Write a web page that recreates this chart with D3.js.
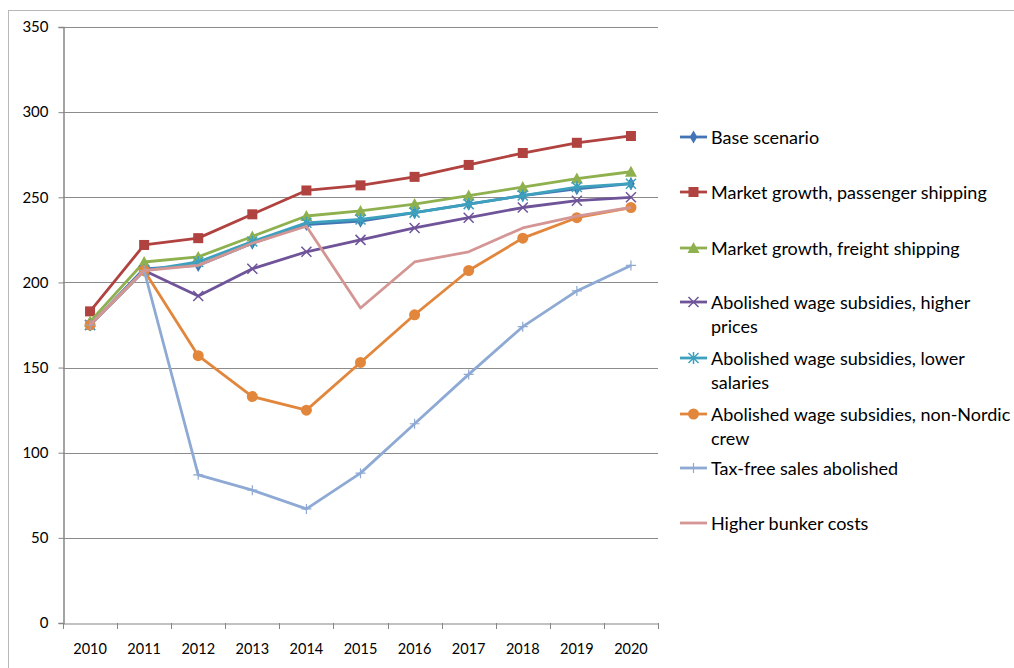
<!DOCTYPE html>
<html><head><meta charset="utf-8">
<script src="https://cdn.jsdelivr.net/npm/d3@7"></script>
<style>body{margin:0;background:#fff;}svg{display:block;font-family:Lato,"Open Sans",sans-serif;}</style>
</head><body><svg id="c" width="1014" height="668"></svg>
<script>
const years = ["2010","2011","2012","2013","2014","2015","2016","2017","2018","2019","2020"];
const yTicks = [0,50,100,150,200,250,300,350];
const baseScenario   = [175,208,210,223,234,236,241,246,251,255,258];
const passengerGrowth= [183,222,226,240,254,257,262,269,276,282,286];
const freightGrowth  = [177,212,215,227,239,242,246,251,256,261,265];
const higherPrices   = [175,207,192,208,218,225,232,238,244,248,250];
const lowerSalaries  = [175,207,212,224,235,237,241,246,251,256,258];
const nonNordicCrew  = [175,207,157,133,125,153,181,207,226,238,244];
const taxFree        = [175,207,87,78,67,88,117,146,174,195,210];
const bunkerCosts    = [175,207,210,223,233,185,212,218,232,239,244];

const series = [
  {name:["Base scenario"], values:baseScenario, color:"#4375b5", marker:"diamond"},
  {name:["Market growth, passenger shipping"], values:passengerGrowth, color:"#b0423f", marker:"square"},
  {name:["Market growth, freight shipping"], values:freightGrowth, color:"#8fb04e", marker:"triangle"},
  {name:["Abolished wage subsidies, higher","prices"], values:higherPrices, color:"#6f5499", marker:"x"},
  {name:["Abolished wage subsidies, lower","salaries"], values:lowerSalaries, color:"#3da1bd", marker:"star"},
  {name:["Abolished wage subsidies, non-Nordic","crew"], values:nonNordicCrew, color:"#e2863c", marker:"circle"},
  {name:["Tax-free sales abolished"], values:taxFree, color:"#8eaad4", marker:"plus"},
  {name:["Higher bunker costs"], values:bunkerCosts, color:"#d49694", marker:"none"}
];
const legendY = [137,192,248,302,358,414,468,523];

const svg = d3.select("#c");
svg.append("rect").attr("x",8.5).attr("y",10.5).attr("width",1014).attr("height",668).attr("fill","none").attr("stroke","#b8b8b8");

const x = d3.scaleBand().domain(years).range([63,658]);
const y = d3.scaleLinear().domain([0,350]).range([623,27]);

// gridlines
svg.append("g").selectAll("line").data(yTicks.filter(d=>d>0)).join("line")
  .attr("x1",63).attr("x2",658).attr("y1",d=>Math.round(y(d))+0.5).attr("y2",d=>Math.round(y(d))+0.5)
  .attr("stroke","#8c8c8c").attr("stroke-width",1);

// y axis
const ya = svg.append("g").attr("transform","translate(63.5,0)")
  .call(d3.axisLeft(y).tickValues(yTicks).tickSize(5).tickPadding(10).tickFormat(d3.format("d")));
ya.select(".domain").attr("stroke","#868686").attr("stroke-width",1.5);
ya.selectAll(".tick line").attr("stroke","#868686");
ya.selectAll(".tick text").attr("font-size",15).attr("fill","#000").attr("font-family","Lato, sans-serif");

// x axis
const xa = svg.append("g").attr("transform","translate(0,623.5)").call(d3.axisBottom(x).tickSize(0).tickPadding(20));
xa.select(".domain").attr("stroke","#868686").attr("stroke-width",1.2);
xa.selectAll(".tick text").attr("font-size",14.5).attr("fill","#000").attr("font-family","Lato, sans-serif");
svg.append("g").selectAll("line").data(years.concat(["end"])).join("line")
  .attr("x1",(d,i)=>Math.round(63+i*x.bandwidth())+0.5).attr("x2",(d,i)=>Math.round(63+i*x.bandwidth())+0.5)
  .attr("y1",623).attr("y2",629).attr("stroke","#868686");

function drawMarker(g, type, color, cx, cy){
  if(type==="diamond") g.append("path").attr("d",d3.symbol(d3.symbolDiamond,50)()).attr("transform",`translate(${cx},${cy})`).attr("fill",color);
  else if(type==="square") g.append("rect").attr("x",cx-5).attr("y",cy-5).attr("width",10).attr("height",10).attr("fill",color);
  else if(type==="triangle") g.append("path").attr("d",`M${cx},${cy-6}L${cx+6},${cy+5}L${cx-6},${cy+5}Z`).attr("fill",color);
  else if(type==="circle") g.append("circle").attr("cx",cx).attr("cy",cy).attr("r",5.5).attr("fill",color);
  else if(type==="x") g.append("path").attr("d",`M${cx-5},${cy-5}L${cx+5},${cy+5}M${cx-5},${cy+5}L${cx+5},${cy-5}`).attr("stroke",color).attr("stroke-width",1.5);
  else if(type==="star") g.append("path").attr("d",`M${cx-5},${cy-5}L${cx+5},${cy+5}M${cx-5},${cy+5}L${cx+5},${cy-5}M${cx},${cy-6}L${cx},${cy+6}`).attr("stroke",color).attr("stroke-width",1.5);
  else if(type==="plus") g.append("path").attr("d",`M${cx-5},${cy}L${cx+5},${cy}M${cx},${cy-5}L${cx},${cy+5}`).attr("stroke",color).attr("stroke-width",1.2);
}

const line = d3.line().x((d,i)=>x(years[i])+x.bandwidth()/2).y(d=>y(d));
series.forEach(s=>{
  const g = svg.append("g");
  g.append("path").datum(s.values).attr("d",line).attr("fill","none").attr("stroke",s.color).attr("stroke-width",2.8).attr("stroke-linejoin","round");
  s.values.forEach((v,i)=>drawMarker(g,s.marker,s.color,x(years[i])+x.bandwidth()/2,y(v)));
});

// legend
const lg = svg.append("g");
series.forEach((s,i)=>{
  const ly = legendY[i];
  lg.append("line").attr("x1",680).attr("x2",707).attr("y1",ly).attr("y2",ly).attr("stroke",s.color).attr("stroke-width",2.8);
  drawMarker(lg,s.marker,s.color,693.5,ly);
  s.name.forEach((t,j)=>{
    lg.append("text").attr("x",711).attr("y",ly+7+j*24).attr("font-size",18).attr("fill","#000")
      .attr("font-family","Lato, sans-serif").text(t);
  });
});
</script></body></html>
